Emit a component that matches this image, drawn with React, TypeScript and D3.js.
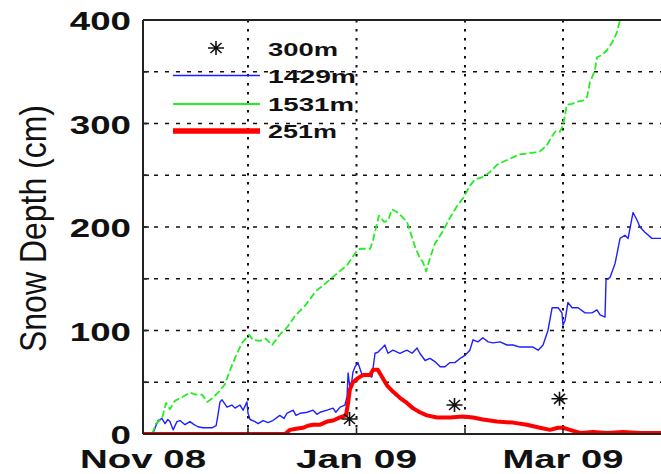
import React from "react";
import * as d3 from "d3";

// Days since 1 Nov 2008 and snow depth (cm)
const greenDay = [2.6, 3.7, 5.4, 6.6, 7.7, 9.1, 11.4, 13.4, 15.1, 16.9, 18.3, 20, 21.7, 23.4, 24.9, 26.6, 28.3, 30.3, 31.4, 33.4, 35.1, 36.9, 39.1, 41.4, 43.4, 46.3, 49.4, 52.3, 55.4, 58.3, 60.9, 62, 64.9, 65.7, 67.4, 68.9, 70, 71.1, 72.3, 73.4, 75.4, 76.6, 77.7, 79.1, 80, 80.9, 82, 83.4, 85.7, 87.7, 89.7, 91.7, 93.4, 94.9, 96.9, 99.1, 101.1, 102.9, 104.9, 107.4, 109.7, 112, 113.4, 115.4, 116.9, 118, 119.1, 120, 121.1, 122.6, 124, 125.7, 126.9, 127.7, 129.1, 129.7, 131.1, 132.6, 134, 135.4, 136.3, 137.4, 138.6];
const greenDepth = [0, 10, 15, 30, 24, 32, 36, 40, 38, 38, 31, 35, 41, 48, 62, 76, 88, 96, 91, 90, 92, 86, 96, 104, 114, 124, 138, 146, 155, 163, 176, 179, 179, 187, 211, 205, 206, 217, 215, 212, 205, 193, 181, 170, 166, 157, 170, 184, 196, 209, 220, 229, 240, 246, 248, 253, 260, 263, 266, 270, 271, 272, 273, 279, 288, 293, 292, 298, 318, 319, 321, 322, 326, 340, 351, 364, 366, 371, 378, 388, 400, 410, 420];

const blueDay = [0, 2, 2.9, 3.7, 4.3, 5.4, 6.3, 7.1, 7.7, 8.6, 9.7, 10.6, 12, 13.4, 14.6, 15.7, 17.1, 18.3, 19.7, 20.9, 21.4, 22, 22.6, 24, 25.4, 26.3, 27.7, 28.6, 29.7, 30, 30.6, 32, 32.9, 34.3, 35.7, 37.1, 39.1, 40.3, 41.1, 42.9, 43.7, 44.9, 46.9, 48.6, 49.7, 50.6, 52.6, 54.3, 55.1, 56.3, 57.7, 58.3, 58.6, 59.1, 59.7, 60, 60.6, 61.4, 62.6, 64, 65.4, 66.3, 67.1, 68.3, 69.1, 70, 71.4, 73.4, 75.4, 76.9, 78.3, 79.1, 80.6, 82, 83.4, 84.9, 86.3, 87.7, 89.1, 90.6, 92, 93.4, 94.3, 95.7, 97.1, 98.6, 100, 102, 104, 105.7, 107.7, 109.7, 111.4, 112.9, 114.3, 115.7, 116.9, 118.6, 119.7, 120, 120.6, 121.4, 122.6, 124.3, 126.3, 128.3, 129.7, 130.6, 132, 132.3, 133.4, 134.9, 136.3, 137.7, 138.6, 140, 141.1, 142, 143.4, 145.4, 148, 150.6];
const blueDepth = [0, 0, 1, 8, 13, 15, 10, 14, 12, 4, 12, 13, 9, 12, 9, 7, 6, 6, 6, 8, 18, 31, 33, 26, 28, 25, 28, 23, 31, 20, 14, 12, 10, 13, 11, 13, 18, 15, 20, 23, 18, 20, 21, 23, 19, 21, 23, 25, 21, 26, 28, 36, 59, 45, 52, 60, 65, 69, 57, 57, 55, 78, 79, 83, 86, 78, 81, 78, 81, 78, 83, 78, 71, 73, 70, 65, 65, 69, 69, 73, 76, 81, 91, 89, 93, 89, 88, 89, 86, 86, 84, 84, 84, 81, 86, 100, 122, 122, 117, 105, 110, 127, 122, 122, 117, 117, 120, 115, 113, 149, 151, 165, 189, 192, 189, 214, 207, 200, 195, 189, 189, 188];

const redDay = [0, 40.6, 42, 43.7, 45.7, 47.1, 48.6, 50.6, 52.6, 54.3, 56.3, 58, 58.6, 59.1, 60, 61.4, 62.9, 64.9, 65.7, 67.1, 68.3, 69.7, 71.4, 73.4, 75.4, 77.1, 79.1, 81.1, 84, 87.7, 91.4, 94.3, 97.1, 101.1, 105.7, 109.7, 113.4, 116.3, 118.6, 120, 122, 124.9, 128.6, 132.6, 137.1, 142, 148, 150.6];
const redDepth = [0, 0, 4, 5, 6, 8, 9, 9, 12, 13, 16, 18, 30, 43, 50, 54, 57, 57, 62, 62, 55, 47, 41, 35, 30, 25, 21, 18, 16, 16, 17, 16, 14, 12, 11, 9, 6, 4, 6, 6, 4, 1, 2, 1, 2, 1, 1, 1];

const starDay = [59, 89, 119];
const starDepth = [14.5, 28, 34];

const yTicks = [0, 50, 100, 150, 200, 250, 300, 350, 400];
const yTickLabels = ["0", "", "100", "", "200", "", "300", "", "400"];
const xTickLabels = ["Nov 08", "", "Jan 09", "", "Mar 09"];

const legendNames = ["300m", "1429m", "1531m", "251m"];

const START = Date.UTC(2008, 10, 1);
const END_DAYS = 151;
const dayToDate = (d: number) => new Date(START + d * 86400000);

const W = 661;
const H = 474;
const left = 143;
const top = 20;
const bottom = 434;
const pxPerDay = 3.5;

const starPath = "M-8,0H8M0,-7V7M-5.5,-5L5.5,5M-5.5,5L5.5,-5";

export default function App() {
  const x = d3
    .scaleUtc()
    .domain([new Date(START), dayToDate(END_DAYS)])
    .range([left, left + END_DAYS * pxPerDay]);
  const y = d3.scaleLinear().domain([0, 400]).range([bottom, top]);

  const mk = (days: number[], vals: number[]) =>
    d3
      .line<number>()
      .x((_, i) => x(dayToDate(days[i])))
      .y((v) => y(v))(vals) as string;

  const monthTicks = d3.utcMonth.range(new Date(START), dayToDate(END_DAYS));

  const font = "'Liberation Sans', Arial, Helvetica, sans-serif";

  const legendY = [48, 75.5, 104, 131];
  const legendTextBase = [56, 82.5, 110.5, 138];
  const legendTextLen = [70, 88, 86, 69];

  return (
    <svg
      width={W}
      height={H}
      style={{ position: "absolute", left: 0, top: 0, background: "#fff" }}
    >
      <defs>
        <clipPath id="plotclip">
          <rect x={left} y={top} width={W} height={bottom - top} />
        </clipPath>
      </defs>
      <rect x={0} y={0} width={W} height={H} fill="#fff" />

      {/* grid */}
      {yTicks
        .filter((t) => t > 0 && t < 400)
        .map((t) => (
          <line
            key={"hg" + t}
            x1={left}
            x2={W}
            y1={y(t)}
            y2={y(t)}
            stroke="#111"
            strokeWidth={1.6}
            strokeDasharray="4,7"
          />
        ))}
      {monthTicks.slice(1).map((m, i) => (
        <line
          key={"vg" + i}
          x1={x(m)}
          x2={x(m)}
          y1={top}
          y2={bottom}
          stroke="#111"
          strokeWidth={2}
          strokeDasharray="2.5,6.5"
        />
      ))}

      {/* data */}
      <g clipPath="url(#plotclip)">
        <path d={mk(blueDay, blueDepth)} fill="none" stroke="#1f1fff" strokeWidth={1.4} strokeLinejoin="round" />
        <path
          d={mk(greenDay, greenDepth)}
          fill="none"
          stroke="#22ee22"
          strokeWidth={1.8}
          strokeDasharray="7,3"
          strokeLinejoin="round"
        />
        <path d={mk(redDay, redDepth)} fill="none" stroke="#ff0000" strokeWidth={4} strokeLinejoin="round" />
        {starDay.map((d, i) => (
          <path
            key={"st" + i}
            d={starPath}
            transform={`translate(${x(dayToDate(d))},${y(starDepth[i])})`}
            stroke="#111"
            strokeWidth={1.6}
            fill="none"
          />
        ))}
      </g>

      {/* axes box */}
      <line x1={left} x2={W} y1={top} y2={top} stroke="#222" strokeWidth={2} />
      <line x1={left} x2={W} y1={bottom} y2={bottom} stroke="#222" strokeWidth={2} />
      <line x1={left} x2={left} y1={top} y2={bottom} stroke="#222" strokeWidth={2} />

      {/* y ticks */}
      {yTicks.map((t, i) => (
        <g key={"yt" + t}>
          <line x1={left} x2={left + 6} y1={y(t)} y2={y(t)} stroke="#222" strokeWidth={1.6} />
          {yTickLabels[i] && (
            <text
              x={131}
              y={y(t) + 10}
              textAnchor="end"
              fontFamily={font}
              fontWeight="bold"
              fontSize={26}
              textLength={yTickLabels[i].length * 20.4}
              lengthAdjust="spacingAndGlyphs"
              fill="#111"
            >
              {yTickLabels[i]}
            </text>
          )}
        </g>
      ))}

      {/* x ticks */}
      {monthTicks.map((m, i) => (
        <g key={"xt" + i}>
          <line x1={x(m)} x2={x(m)} y1={bottom} y2={bottom - 6} stroke="#222" strokeWidth={1.6} />
          {xTickLabels[i] && (
            <text
              x={x(m)}
              y={468}
              textAnchor="middle"
              fontFamily={font}
              fontWeight="bold"
              fontSize={26}
              textLength={xTickLabels[i] === "Nov 08" ? 126 : 121}
              lengthAdjust="spacingAndGlyphs"
              fill="#111"
            >
              {xTickLabels[i]}
            </text>
          )}
        </g>
      ))}

      {/* y label */}
      <text
        transform="translate(46,228.5) scale(1.18,1) rotate(-90)"
        textAnchor="middle"
        fontFamily={font}
        fontSize={32}
        textLength={247}
        lengthAdjust="spacingAndGlyphs"
        fill="#111"
      >
        Snow Depth (cm)
      </text>

      {/* legend */}
      <path d={starPath} transform={`translate(216,${legendY[0]})`} stroke="#111" strokeWidth={1.6} fill="none" />
      <line x1={173} x2={260} y1={legendY[1]} y2={legendY[1]} stroke="#1f1fff" strokeWidth={1.6} />
      <line x1={173} x2={260} y1={legendY[2]} y2={legendY[2]} stroke="#22ee22" strokeWidth={1.8} />
      <line x1={173} x2={260} y1={legendY[3]} y2={legendY[3]} stroke="#ff0000" strokeWidth={5.5} />
      {legendNames.map((n, i) => (
        <text
          key={"lg" + n}
          x={268}
          y={legendTextBase[i]}
          fontFamily={font}
          fontWeight="bold"
          fontSize={18.5}
          textLength={legendTextLen[i]}
          lengthAdjust="spacingAndGlyphs"
          fill="#111"
        >
          {n}
        </text>
      ))}
    </svg>
  );
}
